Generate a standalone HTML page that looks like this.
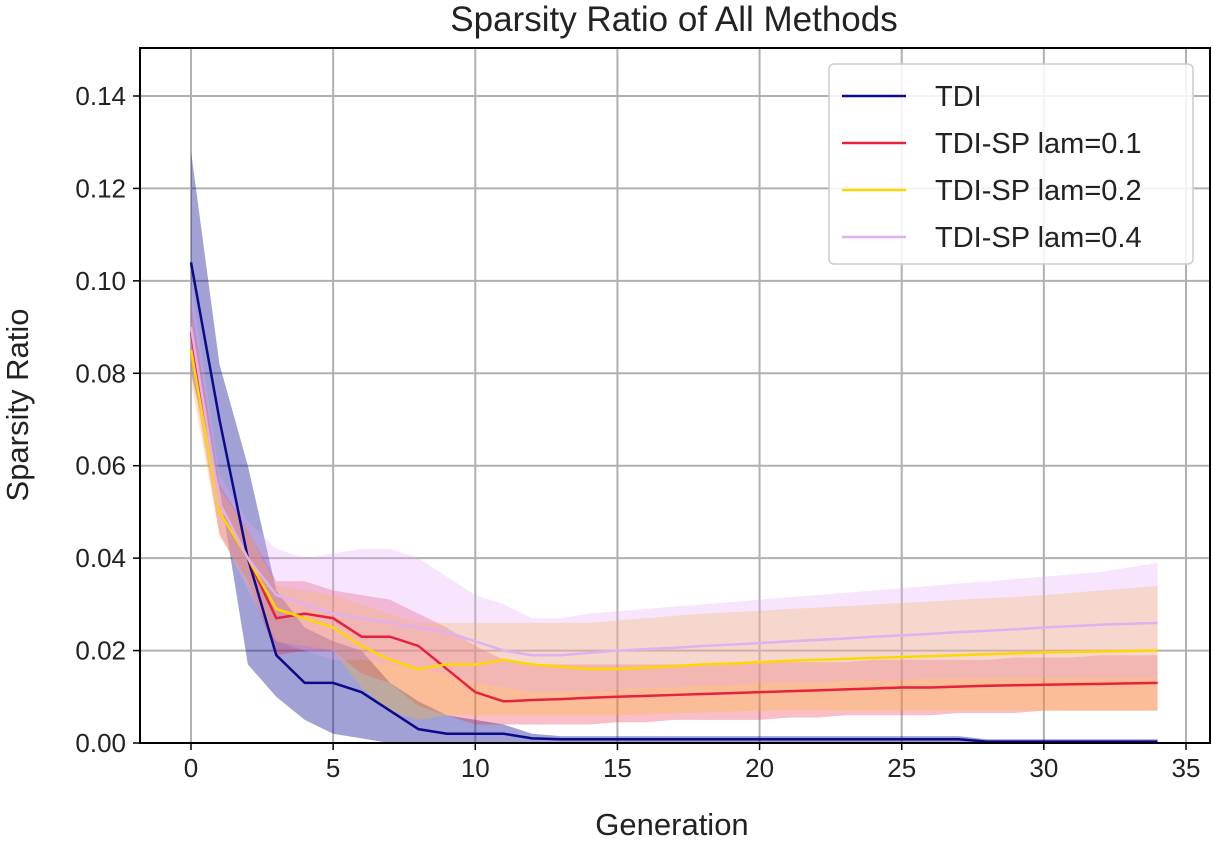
<!DOCTYPE html>
<html><head><meta charset="utf-8"><style>
body{margin:0;background:#fff;width:1213px;height:840px;overflow:hidden}
svg text{font-family:"Liberation Sans","DejaVu Sans",sans-serif;fill:#222}
</style></head><body>
<svg id="chart" width="1213" height="840" xmlns="http://www.w3.org/2000/svg"></svg>
<script>
const xTicks=[0,5,10,15,20,25,30,35];
const yTicks=[0,0.02,0.04,0.06,0.08,0.10,0.12,0.14];
const yTickLabels=["0.00","0.02","0.04","0.06","0.08","0.10","0.12","0.14"];
const seriesNames=["TDI","TDI-SP lam=0.1","TDI-SP lam=0.2","TDI-SP lam=0.4"];
const tdiMean=[0.104,0.07,0.04,0.019,0.013,0.013,0.011,0.007,0.003,0.002,0.002,0.002,0.001,0.0008,0.0008,0.0008,0.0008,0.0008,0.0008,0.0008,0.0008,0.0008,0.0008,0.0008,0.0008,0.0008,0.0008,0.0008,0.0003,0.0003,0.0003,0.0003,0.0003,0.0003,0.0003];
const tdiUpper=[0.128,0.082,0.06,0.033,0.025,0.022,0.02,0.013,0.009,0.006,0.005,0.004,0.002,0.0015,0.0015,0.0015,0.0015,0.0015,0.0015,0.0015,0.0015,0.0015,0.0015,0.0015,0.0015,0.0015,0.0015,0.0015,0.0008,0.0008,0.0008,0.0008,0.0008,0.0008,0.0008];
const tdiLower=[0.08,0.055,0.017,0.01,0.005,0.002,0.001,0,0,0,0,0,0,0,0,0,0,0,0,0,0,0,0,0,0,0,0,0,0,0,0,0,0,0,0];
const redMean=[0.089,0.05,0.04,0.027,0.028,0.027,0.023,0.023,0.021,0.016,0.011,0.009,0.0093,0.0095,0.0098,0.01,0.0102,0.0104,0.0106,0.0108,0.011,0.0112,0.0114,0.0116,0.0118,0.012,0.012,0.0122,0.0124,0.0125,0.0126,0.0127,0.0128,0.0129,0.013];
const redUpper=[0.095,0.056,0.046,0.035,0.035,0.033,0.032,0.031,0.028,0.025,0.021,0.018,0.017,0.017,0.017,0.017,0.017,0.017,0.017,0.017,0.0175,0.0175,0.0175,0.0175,0.018,0.018,0.018,0.018,0.018,0.0185,0.0185,0.0185,0.019,0.019,0.019];
const redLower=[0.083,0.045,0.035,0.019,0.02,0.02,0.015,0.013,0.008,0.006,0.004,0.004,0.004,0.004,0.004,0.0045,0.0045,0.005,0.005,0.005,0.005,0.0055,0.0055,0.006,0.006,0.006,0.006,0.0065,0.0065,0.0065,0.007,0.007,0.007,0.007,0.007];
const yelMean=[0.085,0.05,0.04,0.029,0.027,0.025,0.021,0.018,0.016,0.017,0.017,0.018,0.017,0.0165,0.016,0.016,0.0163,0.0166,0.017,0.0172,0.0175,0.0178,0.018,0.0182,0.0184,0.0186,0.0188,0.019,0.0192,0.0194,0.0196,0.0197,0.0198,0.0199,0.02];
const yelUpper=[0.092,0.055,0.046,0.034,0.033,0.032,0.03,0.028,0.026,0.026,0.026,0.026,0.026,0.026,0.026,0.0265,0.027,0.0275,0.028,0.0283,0.0286,0.029,0.0293,0.0296,0.03,0.0303,0.0306,0.031,0.0313,0.0316,0.032,0.0325,0.033,0.0335,0.034];
const yelLower=[0.078,0.045,0.034,0.022,0.021,0.02,0.012,0.007,0.005,0.006,0.006,0.006,0.006,0.006,0.006,0.006,0.0062,0.0064,0.0066,0.0068,0.007,0.007,0.007,0.007,0.007,0.007,0.007,0.007,0.007,0.007,0.007,0.007,0.007,0.007,0.007];
const pinkMean=[0.09,0.052,0.04,0.032,0.03,0.028,0.027,0.026,0.025,0.024,0.022,0.02,0.019,0.019,0.0195,0.02,0.0203,0.0206,0.021,0.0213,0.0216,0.022,0.0223,0.0226,0.023,0.0233,0.0236,0.024,0.0243,0.0246,0.025,0.0253,0.0256,0.0258,0.026];
const pinkUpper=[0.1,0.058,0.048,0.042,0.04,0.041,0.042,0.042,0.04,0.036,0.032,0.03,0.027,0.027,0.028,0.0285,0.029,0.0295,0.03,0.0305,0.031,0.0315,0.032,0.0325,0.033,0.0335,0.034,0.0345,0.035,0.0355,0.036,0.0365,0.037,0.038,0.039];
const pinkLower=[0.08,0.046,0.033,0.022,0.02,0.018,0.018,0.017,0.016,0.015,0.013,0.012,0.011,0.011,0.011,0.0115,0.012,0.012,0.0125,0.0125,0.013,0.013,0.013,0.0135,0.0135,0.0135,0.014,0.014,0.014,0.014,0.014,0.014,0.014,0.014,0.014];

const NS="http://www.w3.org/2000/svg";
const svg=document.getElementById('chart');
const L=140,R=1210,T=48,B=743;
const X=v=>191+v*(1186-191)/35;
const Y=v=>B-v*(B-96)/0.14;
function mk(tag,attrs,parent){const e=document.createElementNS(NS,tag);for(const k in attrs)e.setAttribute(k,attrs[k]);(parent||svg).appendChild(e);return e;}

const grid=mk('g',{});


xTicks.forEach((t,i)=>{
  const l=mk('line',{x1:X(t),x2:X(t),y1:T,y2:B,stroke:'#b0b0b0','stroke-width':2},grid);
  
  
  mk('line',{x1:X(t),x2:X(t),y1:B,y2:B+7,stroke:'#000','stroke-width':1.5});
  const tx=mk('text',{x:X(t),y:B+34,'text-anchor':'middle','font-size':26});
  tx.textContent=t;
  
  
});
yTicks.forEach((t,i)=>{
  const l=mk('line',{x1:L,x2:R,y1:Y(t),y2:Y(t),stroke:'#b0b0b0','stroke-width':2},grid);
  
  
  mk('line',{x1:L-7,x2:L,y1:Y(t),y2:Y(t),stroke:'#000','stroke-width':1.5});
  const tx=mk('text',{x:L-14,y:Y(t)+9,'text-anchor':'end','font-size':26});
  tx.textContent=yTickLabels[i];
  
  
});

const series=[
 {m:tdiMean,u:tdiUpper,l:tdiLower,c:'#0a0a8a',f:'rgba(20,20,150,0.4)',name:'tdi'},
 {m:redMean,u:redUpper,l:redLower,c:'#e8213e',f:'rgba(235,40,70,0.3)',name:'tdi-sp-01'},
 {m:yelMean,u:yelUpper,l:yelLower,c:'#ffd700',f:'rgba(255,190,40,0.3)',name:'tdi-sp-02'},
 {m:pinkMean,u:pinkUpper,l:pinkLower,c:'#e0b0f0',f:'rgba(225,170,245,0.3)',name:'tdi-sp-04'}
];
series.forEach(s=>{
  let d='';
  s.u.forEach((v,i)=>{d+=(i?'L':'M')+X(i)+','+Y(v);});
  for(let i=s.l.length-1;i>=0;i--)d+='L'+X(i)+','+Y(s.l[i]);
  const band=mk('path',{d:d+'Z',fill:s.f,stroke:'none'});
  
  
});
series.forEach(s=>{
  const pts=s.m.map((v,i)=>X(i)+','+Y(v)).join(' ');
  const ln=mk('polyline',{points:pts,fill:'none',stroke:s.c,'stroke-width':2.5});
  
  
});

const frame=mk('rect',{x:L,y:T,width:R-L,height:B-T,fill:'none',stroke:'#000','stroke-width':2});



const title=mk('text',{x:674,y:31,'text-anchor':'middle','font-size':35});
title.textContent='Sparsity Ratio of All Methods';


const xl=mk('text',{x:672,y:835,'text-anchor':'middle','font-size':31});
xl.textContent='Generation';


const yl=mk('text',{x:0,y:0,'text-anchor':'middle','font-size':31,transform:'translate(28,405) rotate(-90)'});
yl.textContent='Sparsity Ratio';



const lg=mk('g',{});


mk('rect',{x:829,y:64,width:364,height:200,rx:5,fill:'rgba(255,255,255,0.85)',stroke:'#ccc','stroke-width':1.5},lg);
seriesNames.forEach((n,i)=>{
  const yy=96+i*47;
  const sw=mk('line',{x1:842,x2:906,y1:yy,y2:yy,stroke:series[i].c,'stroke-width':2.5},lg);
  
  
  const t=mk('text',{x:935,y:yy+10,'font-size':29},lg);
  t.textContent=n;
  
  
});
</script>
</body></html>
